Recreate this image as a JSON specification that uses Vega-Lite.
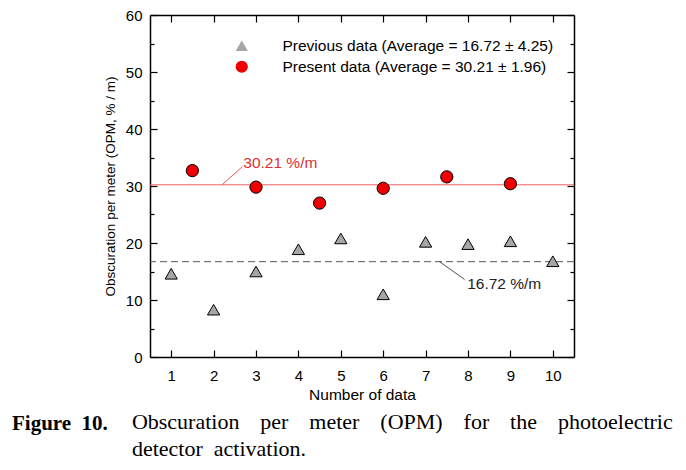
{
  "$schema": "https://vega.github.io/schema/vega-lite/v6.json",
  "width": 424,
  "height": 342,
  "autosize": {"type": "none"},
  "padding": {"left": 150, "top": 15, "right": 112, "bottom": 113},
  "background": "white",
  "title": {
    "text": "Figure\u00a0 10.",
    "subtitle": ["\u200b\u00a0\u00a0\u00a0\u00a0\u00a0\u00a0\u00a0\u00a0\u00a0\u00a0\u00a0\u00a0\u00a0\u00a0\u00a0\u00a0\u00a0\u00a0\u00a0\u00a0\u00a0\u2009Obscuration\u00a0\u00a0\u00a0\u2009per\u00a0\u00a0\u00a0\u2009meter\u00a0\u00a0\u00a0\u2009(OPM)\u00a0\u00a0\u00a0\u2009for\u00a0\u00a0\u00a0\u2009the\u00a0\u00a0\u00a0\u2009photoelectric", "\u200b\u00a0\u00a0\u00a0\u00a0\u00a0\u00a0\u00a0\u00a0\u00a0\u00a0\u00a0\u00a0\u00a0\u00a0\u00a0\u00a0\u00a0\u00a0\u00a0\u00a0\u00a0\u2009detector\u00a0\u00a0activation."],
    "orient": "bottom",
    "anchor": "start",
    "frame": "group",
    "dx": -138,
    "offset": 10,
    "font": "Liberation Serif",
    "fontSize": 21,
    "fontWeight": "bold",
    "color": "black",
    "subtitleFont": "Liberation Serif",
    "subtitleFontSize": 22,
    "subtitleColor": "black",
    "subtitlePadding": -22,
    "subtitleLineHeight": 27
  },
  "config": {
    "view": {"stroke": null},
    "font": "Liberation Sans",
    "axis": {
      "domainColor": "black",
      "domainWidth": 1.5,
      "tickColor": "black",
      "tickWidth": 1.2,
      "grid": false,
      "labelFont": "Liberation Sans",
      "labelFontSize": 15,
      "labelColor": "black",
      "titleFont": "Liberation Sans",
      "titleFontWeight": "normal",
      "titleColor": "black"
    },
    "legend": {
      "orient": "none",
      "legendX": 84,
      "legendY": 23,
      "labelFont": "Liberation Sans",
      "labelFontSize": 15.5,
      "labelColor": "black",
      "labelOffset": 33,
      "rowPadding": 3,
      "symbolSize": 150,
      "symbolStrokeColor": "black",
      "symbolStrokeWidth": 1,
      "labelLimit": 400
    }
  },
  "datasets": {
    "points": [
      {"series": "Previous data (Average = 16.72 ± 4.25)", "n": 1, "opm": 14.6},
      {"series": "Previous data (Average = 16.72 ± 4.25)", "n": 2, "opm": 8.3},
      {"series": "Previous data (Average = 16.72 ± 4.25)", "n": 3, "opm": 15.0},
      {"series": "Previous data (Average = 16.72 ± 4.25)", "n": 4, "opm": 18.9},
      {"series": "Previous data (Average = 16.72 ± 4.25)", "n": 5, "opm": 20.8},
      {"series": "Previous data (Average = 16.72 ± 4.25)", "n": 6, "opm": 11.0},
      {"series": "Previous data (Average = 16.72 ± 4.25)", "n": 7, "opm": 20.2},
      {"series": "Previous data (Average = 16.72 ± 4.25)", "n": 8, "opm": 19.8},
      {"series": "Previous data (Average = 16.72 ± 4.25)", "n": 9, "opm": 20.3},
      {"series": "Previous data (Average = 16.72 ± 4.25)", "n": 10, "opm": 16.8},
      {"series": "Present data (Average = 30.21 ± 1.96)", "n": 1.5, "opm": 32.7},
      {"series": "Present data (Average = 30.21 ± 1.96)", "n": 3, "opm": 29.8},
      {"series": "Present data (Average = 30.21 ± 1.96)", "n": 4.5, "opm": 27.0},
      {"series": "Present data (Average = 30.21 ± 1.96)", "n": 6, "opm": 29.6},
      {"series": "Present data (Average = 30.21 ± 1.96)", "n": 7.5, "opm": 31.6},
      {"series": "Present data (Average = 30.21 ± 1.96)", "n": 9, "opm": 30.4}
    ],
    "averages": [
      {"which": "present", "avg": 30.21},
      {"which": "previous", "avg": 16.72}
    ],
    "leaders": [
      {"which": "present", "x1": 2.2, "y1": 30.21, "x2": 2.68, "y2": 33.4},
      {"which": "previous", "x1": 7.33, "y1": 16.72, "x2": 7.92, "y2": 13.6}
    ],
    "labels": [
      {"which": "present", "x": 2.7, "y": 34.0, "label": "30.21 %/m"},
      {"which": "previous", "x": 7.98, "y": 12.8, "label": "16.72 %/m"}
    ]
  },
  "resolve": {"axis": {"x": "independent", "y": "independent"}},
  "layer": [
    {
      "data": {"name": "averages"},
      "transform": [{"filter": "datum.which === 'present'"}],
      "mark": {"type": "rule", "color": "#f06060", "strokeWidth": 1},
      "encoding": {
        "y": {"field": "avg", "type": "quantitative", "scale": {"domain": [0, 60], "nice": false}, "axis": null}
      }
    },
    {
      "data": {"name": "averages"},
      "transform": [{"filter": "datum.which === 'previous'"}],
      "mark": {"type": "rule", "color": "#555555", "strokeWidth": 1, "strokeDash": [7, 4]},
      "encoding": {
        "y": {"field": "avg", "type": "quantitative", "axis": null}
      }
    },
    {
      "data": {"name": "leaders"},
      "mark": {"type": "rule", "strokeWidth": 0.8},
      "encoding": {
        "x": {"field": "x1", "type": "quantitative", "axis": null},
        "y": {"field": "y1", "type": "quantitative", "axis": null},
        "x2": {"field": "x2"},
        "y2": {"field": "y2"},
        "color": {"field": "which", "type": "nominal", "scale": {"domain": ["present", "previous"], "range": ["#e03030", "#222222"]}, "legend": null}
      }
    },
    {
      "data": {"name": "labels"},
      "mark": {"type": "text", "align": "left", "baseline": "middle", "fontSize": 15.5, "font": "Liberation Sans"},
      "encoding": {
        "x": {"field": "x", "type": "quantitative", "axis": null},
        "y": {"field": "y", "type": "quantitative", "axis": null},
        "text": {"field": "label"},
        "color": {"field": "which", "type": "nominal", "legend": null}
      }
    },
    {
      "data": {"name": "points"},
      "mark": {"type": "point", "filled": true, "stroke": "black", "strokeWidth": 1, "opacity": 1, "size": 150},
      "encoding": {
        "x": {
          "field": "n", "type": "quantitative",
          "scale": {"domain": [0.5, 10.5], "nice": false, "zero": false},
          "axis": {
            "orient": "bottom",
            "values": [1, 2, 3, 4, 5, 6, 7, 8, 9, 10],
            "tickSize": -7,
            "labelPadding": 18,
            "title": "Number of data",
            "titleFontSize": 15.5,
            "titlePadding": 4
          }
        },
        "y": {
          "field": "opm", "type": "quantitative",
          "axis": {
            "orient": "left",
            "values": [0, 5, 10, 15, 20, 25, 30, 35, 40, 45, 50, 55, 60],
            "labelExpr": "datum.value % 10 === 0 ? datum.label : ''",
            "tickSize": {"condition": {"test": "datum.value % 10 === 0", "value": -7}, "value": -4},
            "labelPadding": 15,
            "title": "Obscuration per meter (OPM, % / m)",
            "titleFontSize": 13.5,
            "titlePadding": 8
          }
        },
        "fill": {
          "field": "series", "type": "nominal",
          "scale": {"domain": ["Previous data (Average = 16.72 ± 4.25)", "Present data (Average = 30.21 ± 1.96)"], "range": ["#a6a6a6", "#ee0000"]},
          "legend": {"title": null}
        },
        "shape": {
          "field": "series", "type": "nominal",
          "scale": {"domain": ["Previous data (Average = 16.72 ± 4.25)", "Present data (Average = 30.21 ± 1.96)"], "range": ["triangle-up", "circle"]},
          "legend": {"title": null}
        }
      }
    },
    {
      "data": {"name": "points"},
      "mark": {"type": "point", "opacity": 0},
      "encoding": {
        "x": {
          "field": "n", "type": "quantitative",
          "axis": {"orient": "top", "values": [1, 2, 3, 4, 5, 6, 7, 8, 9, 10], "tickSize": -7, "labels": false, "title": null}
        },
        "y": {
          "field": "opm", "type": "quantitative",
          "axis": {
            "orient": "right",
            "values": [0, 5, 10, 15, 20, 25, 30, 35, 40, 45, 50, 55, 60],
            "tickSize": {"condition": {"test": "datum.value % 10 === 0", "value": -7}, "value": -4},
            "labels": false, "title": null
          }
        }
      }
    }
  ]
}
